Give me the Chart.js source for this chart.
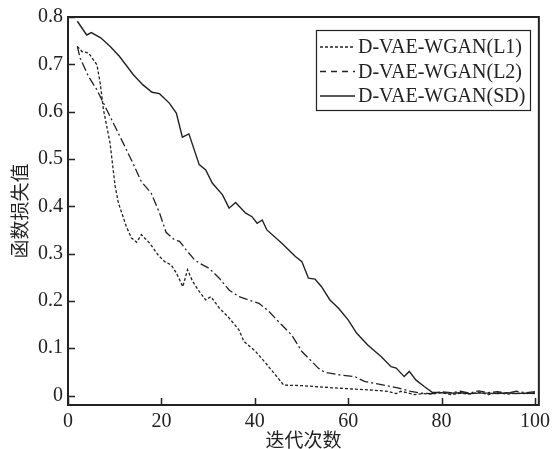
<!DOCTYPE html>
<html>
<head>
<meta charset="utf-8">
<script src="https://cdn.jsdelivr.net/npm/chart.js@4.4.1/dist/chart.umd.min.js"></script>
<style>
    body { margin: 0; background: #fff; }
    canvas { display: block; }
</style>
</head>
<body>
<canvas id="lossChart" width="555" height="449"></canvas>
<script>
// valores
const seriesNames = ['D-VAE-WGAN(L1)', 'D-VAE-WGAN(L2)', 'D-VAE-WGAN(SD)'];

const l1X = [2, 3, 4.4, 6.2, 6.9, 7.6, 9, 10.1, 10.8, 12.5, 13.6, 14.7, 15.7, 17.5, 19.3, 20.7, 22.1, 23.2, 24.6, 25.6, 26.7, 28.1, 29.5, 30.6, 32.4, 34.5, 36.6, 37.7, 40.2, 42.3, 44.4, 46.2, 50.1, 57.2, 64.2, 68.5, 70.3, 71.3, 74.2, 76, 78, 80, 82, 84, 86, 88, 90, 92, 94, 96, 98, 100];
const l1Y = [0.738, 0.727, 0.724, 0.699, 0.660, 0.604, 0.534, 0.442, 0.407, 0.357, 0.333, 0.324, 0.340, 0.322, 0.297, 0.283, 0.276, 0.259, 0.230, 0.266, 0.241, 0.220, 0.202, 0.209, 0.185, 0.164, 0.139, 0.114, 0.093, 0.069, 0.044, 0.022, 0.021, 0.016, 0.012, 0.009, 0.004, 0.009, 0.002, 0.004, 0.003, 0.006, 0.002, 0.005, 0.003, 0.007, 0.002, 0.006, 0.003, 0.005, 0.004, 0.006];

const l2X = [2, 2.6, 4.4, 6.2, 7.6, 9.7, 11.8, 13.9, 15.7, 17.8, 19.6, 21, 22.8, 23.9, 25.3, 27.1, 28.1, 30.2, 32.4, 34.5, 36.6, 38.7, 40.9, 43, 45.8, 47.9, 50.1, 53.6, 55, 57.9, 61.4, 63.5, 67.1, 70.6, 73.4, 75.5, 78, 80, 82, 84, 86, 88, 90, 92, 94, 96, 98, 100];
const l2Y = [0.738, 0.713, 0.674, 0.646, 0.618, 0.576, 0.534, 0.491, 0.452, 0.428, 0.386, 0.345, 0.329, 0.326, 0.308, 0.287, 0.280, 0.269, 0.248, 0.223, 0.209, 0.202, 0.195, 0.178, 0.149, 0.128, 0.093, 0.058, 0.049, 0.044, 0.040, 0.030, 0.023, 0.016, 0.009, 0.005, 0.004, 0.008, 0.006, 0.009, 0.005, 0.010, 0.006, 0.008, 0.005, 0.009, 0.006, 0.008];

const sdX = [2, 4, 5, 7, 9, 11, 14, 16, 18, 19.6, 21.7, 23.2, 24.5, 25.9, 28.1, 29.5, 30.9, 33.1, 34.5, 35.9, 38, 39.4, 40.5, 41.6, 42.6, 45.8, 48.7, 50.1, 51.5, 52.9, 54.3, 56.1, 57.9, 60, 61.8, 64.2, 67.1, 69.2, 70.3, 72, 73.1, 74.5, 76.3, 78, 80, 82, 84, 86, 88, 90, 92, 94, 96, 98, 100];
const sdY = [0.791, 0.762, 0.767, 0.756, 0.738, 0.717, 0.678, 0.657, 0.641, 0.638, 0.618, 0.597, 0.546, 0.553, 0.488, 0.477, 0.449, 0.424, 0.396, 0.408, 0.386, 0.378, 0.364, 0.371, 0.350, 0.322, 0.294, 0.283, 0.248, 0.246, 0.230, 0.202, 0.185, 0.160, 0.132, 0.107, 0.082, 0.061, 0.058, 0.040, 0.051, 0.033, 0.019, 0.007, 0.006, 0.005, 0.006, 0.004, 0.005, 0.005, 0.004, 0.006, 0.004, 0.005, 0.004];

const xTickValues = [0, 20, 40, 60, 80, 100];
const yTickValues = [0, 0.1, 0.2, 0.3, 0.4, 0.5, 0.6, 0.7, 0.8];

const ink = '#222';
const serif = "'Liberation Serif', 'Times New Roman', serif";
const cjk = "'Noto Sans CJK SC', 'Noto Serif CJK SC', serif";

function toPoints(xs, ys) {
    return xs.map((x, i) => ({ x: x, y: ys[i] }));
}

// marco, marcas hacia dentro y leyenda con recuadro
const framePlugin = {
    id: 'frame',
    afterDraw(chart) {
        const ctx = chart.ctx;
        const a = chart.chartArea;
        const xs = chart.scales.x;
        const ys = chart.scales.y;
        ctx.save();
        ctx.strokeStyle = ink;
        ctx.lineWidth = 1.5;
        ctx.beginPath();
        xTickValues.forEach(v => {
            const px = Math.round(xs.getPixelForValue(v)) + 0.5;
            ctx.moveTo(px, a.bottom);
            ctx.lineTo(px, a.bottom - 7);
        });
        yTickValues.forEach(v => {
            const py = Math.round(ys.getPixelForValue(v)) + 0.5;
            ctx.moveTo(a.left, py);
            ctx.lineTo(a.left + 7, py);
        });
        ctx.stroke();
        ctx.lineWidth = 2;
        ctx.strokeRect(a.left, a.top, a.right - a.left, a.bottom - a.top);

        // leyenda
        const box = { left: 316.5, top: 30.5, width: 214, height: 80 };
        ctx.lineWidth = 1.2;
        ctx.strokeRect(box.left, box.top, box.width, box.height);
        const dashes = [[3, 2], [6, 5], []];
        ctx.font = '20px ' + serif;
        ctx.fillStyle = ink;
        ctx.textBaseline = 'middle';
        seriesNames.forEach((name, i) => {
            const y = 47 + i * 24.5;
            ctx.setLineDash(dashes[i]);
            ctx.lineWidth = 1.3;
            ctx.beginPath();
            ctx.moveTo(320, y);
            ctx.lineTo(355, y);
            ctx.stroke();
            ctx.setLineDash([]);
            ctx.fillText(name, 358, y + 1);
        });
        ctx.restore();
    }
};

const lossChart = new Chart(document.getElementById('lossChart').getContext('2d'), {
    type: 'line',
    data: {
        datasets: [
            {
                label: seriesNames[0],
                data: toPoints(l1X, l1Y),
                borderColor: ink,
                borderWidth: 1.3,
                borderDash: [3, 2],
                pointRadius: 0,
                fill: false,
                tension: 0,
            },
            {
                label: seriesNames[1],
                data: toPoints(l2X, l2Y),
                borderColor: ink,
                borderWidth: 1.3,
                borderDash: [9, 3, 2, 3],
                pointRadius: 0,
                fill: false,
                tension: 0,
            },
            {
                label: seriesNames[2],
                data: toPoints(sdX, sdY),
                borderColor: ink,
                borderWidth: 1.4,
                pointRadius: 0,
                fill: false,
                tension: 0,
            },
        ],
    },
    options: {
        responsive: false,
        animation: false,
        layout: { padding: { top: 17, right: 13, left: 0, bottom: 0 } },
        plugins: {
            legend: { display: false },
            tooltip: { enabled: false },
        },
        scales: {
            x: {
                type: 'linear',
                min: 0,
                max: 100.85,
                grid: { display: false, drawTicks: false },
                border: { display: false },
                afterBuildTicks: scale => {
                    scale.ticks = xTickValues.map(v => ({ value: v }));
                },
                afterFit: scale => {
                    scale.height = 44;
                },
                ticks: {
                    padding: 5,
                    maxRotation: 0,
                    color: ink,
                    font: { family: serif, size: 20 },
                    callback: value => String(value),
                },
                title: {
                    display: true,
                    text: '迭代次数',
                    color: ink,
                    padding: { top: 0, bottom: -2 },
                    font: { family: cjk, size: 19 },
                },
            },
            y: {
                type: 'linear',
                min: -0.02,
                max: 0.8,
                grid: { display: false, drawTicks: false },
                border: { display: false },
                afterBuildTicks: scale => {
                    scale.ticks = yTickValues.map(v => ({ value: v }));
                },
                afterFit: scale => {
                    scale.width = 68;
                },
                ticks: {
                    padding: 5,
                    color: ink,
                    font: { family: serif, size: 20 },
                    callback: value => String(value),
                },
                title: {
                    display: true,
                    text: '函数损失值',
                    color: ink,
                    padding: { top: 8, bottom: 0 },
                    font: { family: cjk, size: 19 },
                },
            },
        },
    },
    plugins: [framePlugin],
});
</script>
</body>
</html>
